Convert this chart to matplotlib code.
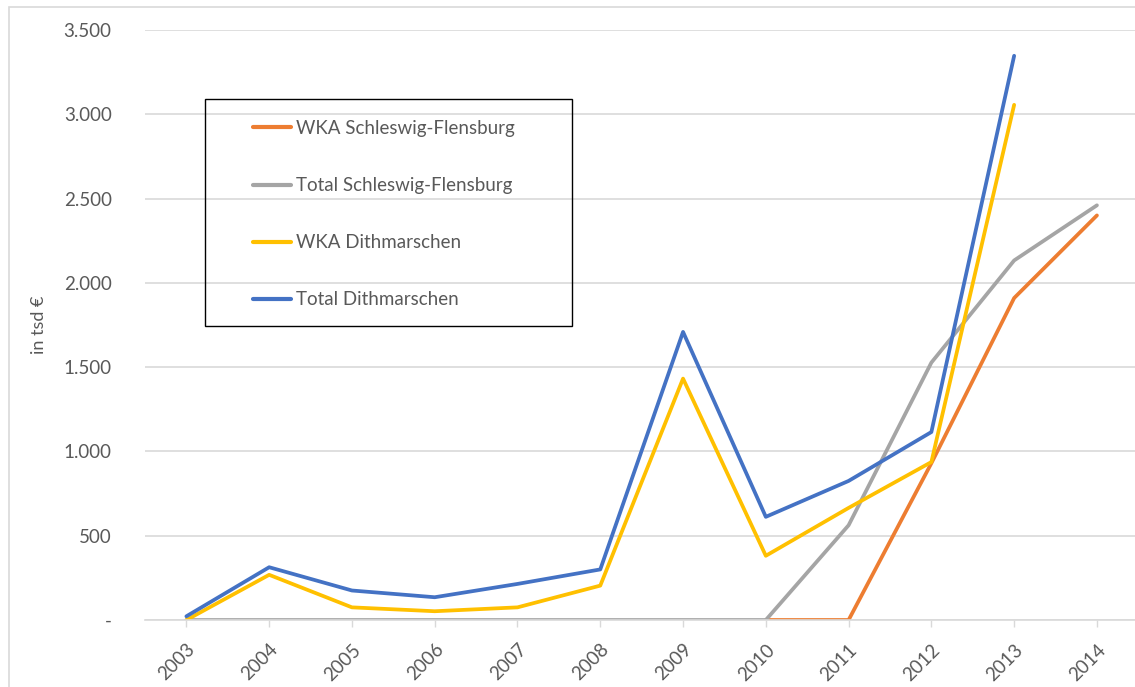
import numpy as np
import matplotlib
matplotlib.use("Agg")
import matplotlib.pyplot as plt
from matplotlib.patches import Rectangle
from matplotlib.ticker import FuncFormatter

plt.rcParams["font.family"] = ["Lato", "DejaVu Sans"]

years = [str(y) for y in range(2003, 2015)]
nan = np.nan

# values in thousand euro
wka_sl_fl   = [nan, nan, nan, nan, nan, nan, nan, 0, 0, 930, 1910, 2400]
total_sl_fl = [0, 0, 0, 0, 0, 0, 0, 0, 562, 1527, 2133, 2460]
wka_dith    = [0, 268, 75, 52, 75, 204, 1432, 381, 665, 937, 3056, nan]
total_dith  = [22, 313, 175, 135, 214, 300, 1709, 612, 825, 1115, 3347, nan]

series = [
    ("WKA Schleswig-Flensburg",   wka_sl_fl,   "#ED7D31"),
    ("Total Schleswig-Flensburg", total_sl_fl, "#A5A5A5"),
    ("WKA Dithmarschen",          wka_dith,    "#FFC000"),
    ("Total Dithmarschen",        total_dith,  "#4472C4"),
]

TEXT = "#595959"
GRID = "#D9D9D9"
W, H = 1135, 687

fig = plt.figure(figsize=(W / 100, H / 100), dpi=100, facecolor="white")
ax = fig.add_axes([145 / W, 1 - 620 / H, 1 - 145 / W, 590 / H])

x = np.arange(len(years))
for label, vals, color in series:
    ax.plot(x, vals, color=color, lw=2.7, label=label, solid_capstyle="round")

ax.set_xlim(-0.5, 11.46)
ax.set_ylim(0, 3500)
ax.set_yticks(np.arange(0, 3501, 500))
ax.yaxis.set_major_formatter(FuncFormatter(
    lambda v, _: "-" if v == 0 else f"{int(v):,}".replace(",", ".")))
ax.set_xticks(x)
ax.set_xticklabels(years, rotation=45, ha="right", rotation_mode="anchor")

ax.grid(axis="y", color=GRID, lw=1.2)
ax.set_axisbelow(True)
for side in ("top", "right", "left"):
    ax.spines[side].set_visible(False)
ax.spines["bottom"].set_color(GRID)
ax.spines["bottom"].set_linewidth(1.2)

ax.tick_params(axis="y", length=0, pad=24, labelsize=13.5, labelcolor=TEXT)
ax.tick_params(axis="x", length=5, width=1, color=GRID, pad=10,
               labelsize=13.5, labelcolor=TEXT)

ax.set_ylabel("in tsd €", fontsize=13, color=TEXT)
ax.yaxis.set_label_coords(-98 / 990, 0.5)

# legend: entries without frame, box drawn separately
leg = ax.legend(loc="upper left", bbox_to_anchor=(108 / 990, 1 - 90 / 590),
                frameon=False, fontsize=13.5, labelcolor=TEXT,
                handlelength=2.0, handletextpad=0.3,
                labelspacing=2.14, borderpad=0, borderaxespad=0)
for h in leg.get_lines():
    h.set_linewidth(3)
fig.patches.append(Rectangle((205 / W, 1 - 326 / H), 367 / W, 227 / H,
                             transform=fig.transFigure, fill=False,
                             edgecolor="black", lw=1.0, zorder=5))

# light outer frame of the chart area
fig.patches.append(Rectangle((9 / W, -0.01), 1.02, 1 - 7 / H + 0.01,
                             transform=fig.transFigure, fill=False,
                             edgecolor=GRID, lw=1.2))

fig.savefig("out.png", dpi=100, facecolor="white")
